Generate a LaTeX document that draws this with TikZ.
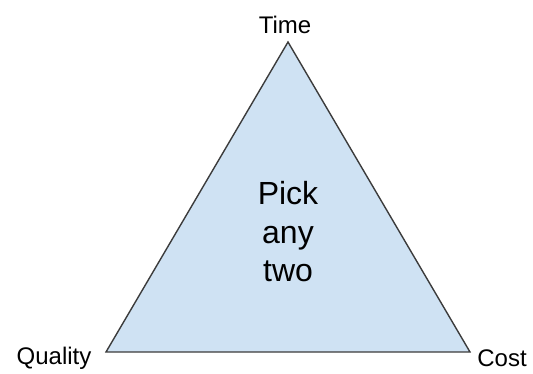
\documentclass[tikz,border=0pt]{standalone}
\usepackage{fontspec}
\setmainfont{Liberation Sans}
\usetikzlibrary{positioning}
\definecolor{triblue}{HTML}{CFE2F3}
\definecolor{triedge}{HTML}{3C3C3C}

\begin{document}
\begin{tikzpicture}[x=1pt, y=-1pt,
    corner/.style={font=\fontsize{24}{28}\selectfont, inner sep=0pt, anchor=base},
    middle/.style={font=\fontsize{32}{38.5}\selectfont, align=center, inner sep=0pt}]
        % Khung hình
        \useasboundingbox (0,0) rectangle (533,373);

        % Các đỉnh tam giác
        \coordinate (top) at (288,42);
        \coordinate (left) at (106,352);
        \coordinate (right) at (470,352);

        % Tam giác
        \filldraw[fill=triblue, draw=triedge, line width=1.4pt, line join=miter] (top) -- (left) -- (right) -- cycle;

        % Nhãn các đỉnh
        \node[corner] (time) at (285,33) {Time};
        \node[corner] (quality) at (54,364) {Quality};
        \node[corner] (cost) at (502,366) {Cost};

        % Chữ ở giữa
        \node[middle] (pick) at (288,232) {Pick\\any\\two};
    \end{tikzpicture}
\end{document}
